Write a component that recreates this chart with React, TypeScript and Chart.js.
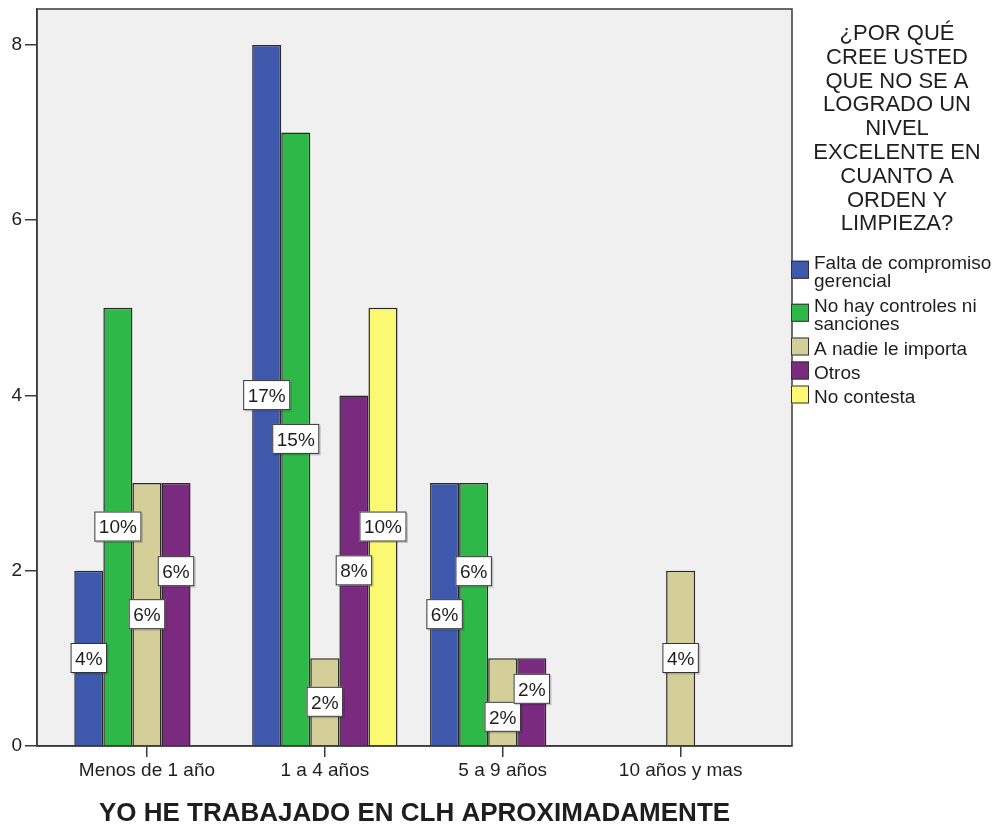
import React, { useEffect, useRef } from "react";
import { Chart, registerables } from "chart.js";

Chart.register(...registerables);

const categories = ["Menos de 1 año", "1 a 4 años", "5 a 9 años", "10 años y mas"];
const seriesNames = [
  "Falta de compromiso gerencial",
  "No hay controles ni sanciones",
  "A nadie le importa",
  "Otros",
  "No contesta",
];
const faltaCompromiso = [2, 8, 3, 0];
const noControles = [5, 7, 3, 0];
const aNadie = [3, 1, 1, 2];
const otros = [3, 4, 1, 0];
const noContesta = [0, 5, 0, 0];

const faltaCompromisoPct = ["4%", "17%", "6%", ""];
const noControlesPct = ["10%", "15%", "6%", ""];
const aNadiePct = ["6%", "2%", "2%", "4%"];
const otrosPct = ["6%", "8%", "2%", ""];
const noContestaPct = ["", "10%", "", ""];

const yTickStep = 2;
const legendTitleLines = [
  "¿POR QUÉ",
  "CREE USTED",
  "QUE NO SE A",
  "LOGRADO UN",
  "NIVEL",
  "EXCELENTE EN",
  "CUANTO A",
  "ORDEN Y",
  "LIMPIEZA?",
];
const xAxisTitle = "YO HE TRABAJADO EN CLH APROXIMADAMENTE";

const colors = ["#3E58AC", "#2EB848", "#D4CF99", "#7A2A7F", "#FBF872"];
const FONT = "'Liberation Sans', Arial, sans-serif";
const TEXT = "#1e1e1e";
const LINE = "#3a3a3a";

export default function App() {
  const ref = useRef<HTMLCanvasElement | null>(null);

  useEffect(() => {
    const canvas = ref.current;
    if (!canvas) return;
    const values = [faltaCompromiso, noControles, aNadie, otros, noContesta];
    const pcts = [faltaCompromisoPct, noControlesPct, aNadiePct, otrosPct, noContestaPct];

    const bgPlugin = {
      id: "bgPlugin",
      beforeDraw(chart: any) {
        const { ctx, chartArea: a } = chart;
        ctx.save();
        ctx.fillStyle = "#ffffff";
        ctx.fillRect(0, 0, chart.width, chart.height);
        ctx.fillStyle = "#F0F0F0";
        ctx.fillRect(a.left, a.top, a.right - a.left, a.bottom - a.top);
        ctx.restore();
      },
    };

    const overlayPlugin = {
      id: "overlayPlugin",
      afterDatasetsDraw(chart: any) {
        const { ctx, chartArea: a } = chart;
        ctx.save();
        // frame
        ctx.strokeStyle = LINE;
        ctx.lineWidth = 1.5;
        ctx.strokeRect(a.left, a.top, a.right - a.left, a.bottom - a.top);
        // value labels: collect boxes per category, then resolve overlaps
        ctx.font = `19px ${FONT}`;
        const h = 30;
        categories.forEach((_, ci) => {
          const boxes: any[] = [];
          chart.data.datasets.forEach((ds: any, di: number) => {
            const txt = pcts[di][ci];
            if (!txt || !values[di][ci]) return;
            const el = chart.getDatasetMeta(di).data[ci];
            const w = ctx.measureText(txt).width + 9;
            const box = { txt, cx: el.x, cy: (el.y + el.base) / 2, w, barH: el.base - el.y };
            const prev = boxes[boxes.length - 1];
            if (prev) {
              const hOver = Math.abs(prev.cx - box.cx) < (prev.w + box.w) / 2;
              const vOver = Math.abs(prev.cy - box.cy) < h;
              if (hOver && vOver) {
                if (box.barH >= 200) {
                  box.cy -= 43;
                } else {
                  prev.cy += 15;
                  box.cy -= 13;
                }
              }
            }
            boxes.push(box);
          });
          boxes.forEach((b) => {
            const { cx, cy, w, txt } = b;
            ctx.fillStyle = "rgba(0,0,0,0.18)";
            ctx.fillRect(cx - w / 2 + 1.5, cy - h / 2 + 1.5, w, h);
            ctx.fillStyle = "#ffffff";
            ctx.fillRect(cx - w / 2, cy - h / 2, w, h);
            ctx.strokeStyle = "#333";
            ctx.lineWidth = 1;
            ctx.strokeRect(cx - w / 2 + 0.5, cy - h / 2 + 0.5, w - 1, h - 1);
            ctx.fillStyle = TEXT;
            ctx.textAlign = "center";
            ctx.textBaseline = "alphabetic";
            ctx.fillText(txt, cx, cy + 6.8);
          });
        });
        ctx.restore();
      },
      afterDraw(chart: any) {
        const { ctx, chartArea: a } = chart;
        ctx.save();
        // x axis title
        ctx.font = `bold 26px ${FONT}`;
        ctx.fillStyle = TEXT;
        ctx.textAlign = "center";
        ctx.textBaseline = "alphabetic";
        ctx.fillText(xAxisTitle, (a.left + a.right) / 2, 812 + 9.3);
        // legend title
        ctx.font = `22px ${FONT}`;
        const titleX = 897;
        legendTitleLines.forEach((line, i) => {
          ctx.fillText(line, titleX, 32 + i * 23.8 + 7.9);
        });
        // legend items
        ctx.font = `19px ${FONT}`;
        ctx.textAlign = "left";
        const textX = 814;
        const maxW = 184;
        let y = 262;
        seriesNames.forEach((name, i) => {
          const words = name.split(" ");
          const lines: string[] = [];
          let cur = "";
          words.forEach((w) => {
            const t = cur ? cur + " " + w : w;
            if (ctx.measureText(t).width > maxW && cur) {
              lines.push(cur);
              cur = w;
            } else cur = t;
          });
          if (cur) lines.push(cur);
          const lh = 18.5;
          const last = y + (lines.length - 1) * lh;
          const sc = (y + last) / 2 - 1.5;
          ctx.fillStyle = colors[i];
          ctx.fillRect(791, sc - 9, 18, 18);
          ctx.strokeStyle = "#333";
          ctx.lineWidth = 1;
          ctx.strokeRect(791.5, sc - 8.5, 17, 17);
          ctx.fillStyle = TEXT;
          lines.forEach((l, k) => ctx.fillText(l, textX, y + k * lh + 6.8));
          y += lines.length * 19 + 5;
        });
        ctx.restore();
      },
    };

    const chart = new Chart(canvas, {
      type: "bar",
      data: {
        datasets: values.map((vals, di) => ({
          label: seriesNames[di],
          data: vals.map((v, i) => ({ x: i, y: v > 0 ? v : null })),
          backgroundColor: colors[di],
          borderColor: "#2a2a2a",
          borderWidth: 1.5,
          barPercentage: 1,
          categoryPercentage: 0.817,
        })),
      },
      options: {
        responsive: false,
        animation: false,
        devicePixelRatio: 1,
        layout: { padding: { left: 0, right: 208, top: 9, bottom: 0 } },
        plugins: {
          legend: { display: false },
          tooltip: { enabled: false },
          title: { display: false },
        },
        scales: {
          x: {
            type: "linear",
            min: -0.618,
            max: 3.626,
            offset: false,
            ticks: {
              stepSize: 1,
              includeBounds: false,
              autoSkip: false,
              maxRotation: 0,
              padding: 2,
              color: TEXT,
              font: { family: FONT, size: 19 },
              callback: (v: any) => categories[v] ?? "",
            },
            grid: {
              offset: false,
              drawOnChartArea: false,
              drawTicks: true,
              tickLength: 11,
              color: LINE,
              lineWidth: 1.5,
            },
            border: { display: true, color: LINE, width: 1.5 },
            afterFit: (s: any) => {
              s.height = 81;
              s.paddingLeft = 0;
              s.paddingRight = 0;
            },
          },
          y: {
            min: 0,
            max: 8.41,
            ticks: {
              stepSize: yTickStep,
              includeBounds: false,
              padding: 3,
              color: TEXT,
              font: { family: FONT, size: 19 },
            },
            grid: {
              drawOnChartArea: false,
              drawTicks: true,
              tickLength: 12,
              color: LINE,
              lineWidth: 1.5,
            },
            border: { display: true, color: LINE, width: 1.5 },
            afterFit: (s: any) => {
              s.width = 37;
              s.paddingTop = 0;
              s.paddingBottom = 0;
            },
          },
        },
      } as any,
      plugins: [bgPlugin, overlayPlugin],
    });
    return () => chart.destroy();
  }, []);

  return (
    <div style={{ position: "absolute", left: 0, top: 0, width: 1000, height: 827, background: "#fff" }}>
      <canvas ref={ref} width={1000} height={827} style={{ display: "block", width: 1000, height: 827 }} />
    </div>
  );
}
